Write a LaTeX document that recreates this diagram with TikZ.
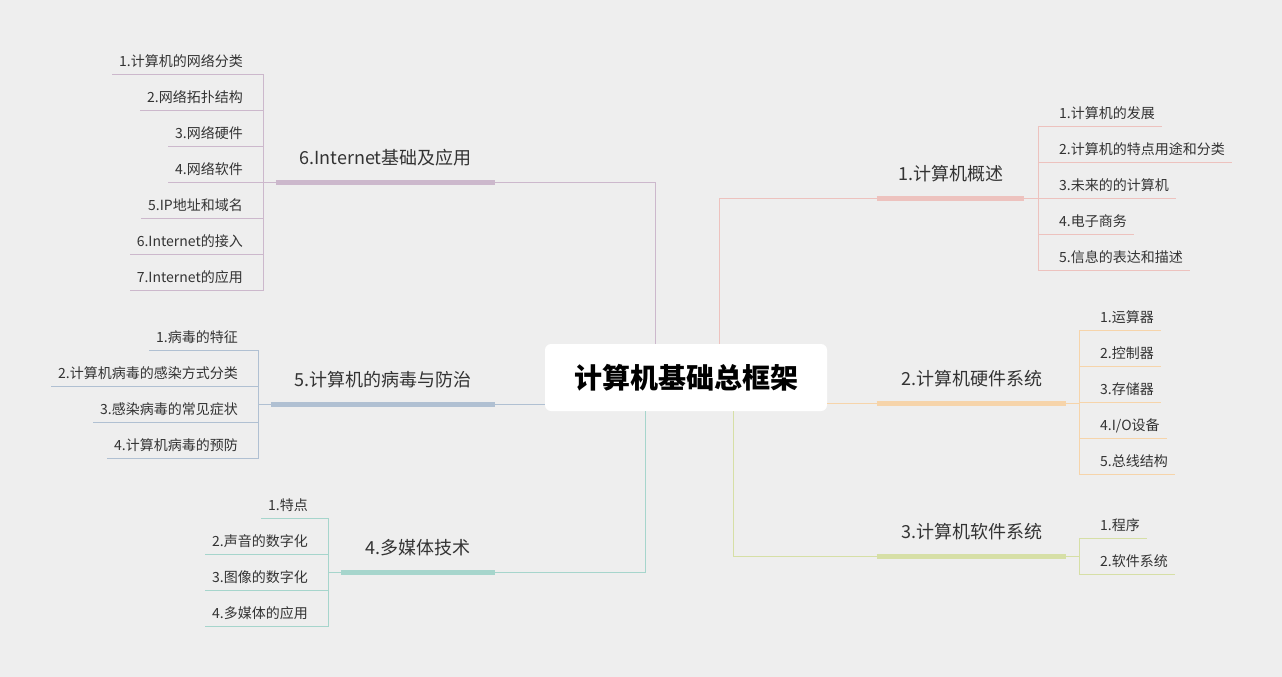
\documentclass[tikz,border=0pt]{standalone}
\usepackage{fontspec}
\setmainfont{Noto Sans CJK SC}
\usepackage{tikz}
\usetikzlibrary{calc}
\definecolor{bgback}{HTML}{EEEEEE}
\definecolor{textdark}{HTML}{333333}
\definecolor{mmpink}{HTML}{EDC2BE}
\definecolor{mmorange}{HTML}{F6D4AA}
\definecolor{mmgreen}{HTML}{D6DFA6}
\definecolor{mmteal}{HTML}{A6D5CC}
\definecolor{mmblue}{HTML}{B0C0D2}
\definecolor{mmpurple}{HTML}{CCB8CC}

\begin{document}
\begin{tikzpicture}[
  x=1pt, y=-1pt,
  root/.style={fill=white, rounded corners=6pt, minimum width=282pt,
               minimum height=67pt, inner sep=0pt, text=black,
               font=\fontsize{28pt}{32pt}\selectfont\bfseries},
  branch/.style={anchor=south, inner xsep=0pt, inner ysep=14pt,
                 text height=14pt, text depth=3pt, text=textdark,
                 font=\fontsize{18pt}{21pt}\selectfont},
  leafr/.style={anchor=south west, inner xsep=7pt, inner ysep=5.5pt,
                text height=11pt, text depth=2pt, text=textdark,
                font=\fontsize{14pt}{16pt}\selectfont},
  leafl/.style={leafr, anchor=south east},
  bar/.style={line width=5pt, line cap=butt},
  link/.style={line width=0.8pt}
]
\fill[bgback] (0,0) rectangle (1282,677);
\useasboundingbox (0,0) rectangle (1282,677);

% centre
\node[root] (root) at (686,377.5) {计算机基础总框架};

% main topics
\node[branch, minimum width=147pt] (b1) at (950.5,198) {1.计算机概述};
\node[branch, minimum width=189pt] (b2) at (971.5,403) {2.计算机硬件系统};
\node[branch, minimum width=189pt] (b3) at (971.5,556) {3.计算机软件系统};
\node[branch, minimum width=154pt] (b4) at (418,572) {4.多媒体技术};
\node[branch, minimum width=224pt] (b5) at (383,404) {5.计算机的病毒与防治};
\node[branch, minimum width=219pt] (b6) at (385.5,182) {6.Internet基础及应用};

\coordinate (j1) at (1038,198);
\coordinate (j2) at (1079,403);
\coordinate (j3) at (1079,556);
\coordinate (j4) at (328,572);
\coordinate (j5) at (258,404);
\coordinate (j6) at (263,182);

% sub topics
\node[leafr] (l11) at (1052,126) {1.计算机的发展};
\node[leafr] (l12) at (1052,162) {2.计算机的特点用途和分类};
\node[leafr] (l13) at (1052,198) {3.未来的的计算机};
\node[leafr] (l14) at (1052,234) {4.电子商务};
\node[leafr] (l15) at (1052,270) {5.信息的表达和描述};

\node[leafr] (l21) at (1093,330) {1.运算器};
\node[leafr] (l22) at (1093,366) {2.控制器};
\node[leafr] (l23) at (1093,402) {3.存储器};
\node[leafr] (l24) at (1093,438) {4.I/O设备};
\node[leafr] (l25) at (1093,474) {5.总线结构};

\node[leafr] (l31) at (1093,538) {1.程序};
\node[leafr] (l32) at (1093,574) {2.软件系统};

\node[leafl] (l41) at (315,518) {1.特点};
\node[leafl] (l42) at (315,554) {2.声音的数字化};
\node[leafl] (l43) at (315,590) {3.图像的数字化};
\node[leafl] (l44) at (315,626) {4.多媒体的应用};

\node[leafl] (l51) at (245,350) {1.病毒的特征};
\node[leafl] (l52) at (245,386) {2.计算机病毒的感染方式分类};
\node[leafl] (l53) at (245,422) {3.感染病毒的常见症状};
\node[leafl] (l54) at (245,458) {4.计算机病毒的预防};

\node[leafl] (l61) at (250,74) {1.计算机的网络分类};
\node[leafl] (l62) at (250,110) {2.网络拓扑结构};
\node[leafl] (l63) at (250,146) {3.网络硬件};
\node[leafl] (l64) at (250,182) {4.网络软件};
\node[leafl] (l65) at (250,218) {5.IP地址和域名};
\node[leafl] (l66) at (250,254) {6.Internet的接入};
\node[leafl] (l67) at (250,290) {7.Internet的应用};

% root to topics
\draw[link, mmpink] ([xshift=33pt]root.north) |- (b1.south west);
\draw[link, mmorange] (root.east |- b2.south) -- (b2.south west);
\draw[link, mmgreen] ([xshift=47pt]root.south) |- (b3.south west);
\draw[link, mmteal] ([xshift=-41pt]root.south) |- (b4.south east);
\draw[link, mmblue] (root.west |- b5.south) -- (b5.south east);
\draw[link, mmpurple] ([xshift=-31pt]root.north) |- (b6.south east);

% bars
\draw[bar, mmpink] (b1.south west) -- (b1.south east);
\draw[bar, mmorange] (b2.south west) -- (b2.south east);
\draw[bar, mmgreen] (b3.south west) -- (b3.south east);
\draw[bar, mmteal] (b4.south west) -- (b4.south east);
\draw[bar, mmblue] (b5.south west) -- (b5.south east);
\draw[bar, mmpurple] (b6.south west) -- (b6.south east);

% topics to sub topics
\draw[link, mmpink] (b1.south east) -- (j1);
\draw[link, mmpink] (j1) |- (l11.south east);
\draw[link, mmpink] (j1) |- (l12.south east);
\draw[link, mmpink] (j1) |- (l13.south east);
\draw[link, mmpink] (j1) |- (l14.south east);
\draw[link, mmpink] (j1) |- (l15.south east);

\draw[link, mmorange] (b2.south east) -- (j2);
\draw[link, mmorange] (j2) |- (l21.south east);
\draw[link, mmorange] (j2) |- (l22.south east);
\draw[link, mmorange] (j2) |- (l23.south east);
\draw[link, mmorange] (j2) |- (l24.south east);
\draw[link, mmorange] (j2) |- (l25.south east);

\draw[link, mmgreen] (b3.south east) -- (j3);
\draw[link, mmgreen] (j3) |- (l31.south east);
\draw[link, mmgreen] (j3) |- (l32.south east);

\draw[link, mmteal] (b4.south west) -- (j4);
\draw[link, mmteal] (j4) |- (l41.south west);
\draw[link, mmteal] (j4) |- (l42.south west);
\draw[link, mmteal] (j4) |- (l43.south west);
\draw[link, mmteal] (j4) |- (l44.south west);

\draw[link, mmblue] (b5.south west) -- (j5);
\draw[link, mmblue] (j5) |- (l51.south west);
\draw[link, mmblue] (j5) |- (l52.south west);
\draw[link, mmblue] (j5) |- (l53.south west);
\draw[link, mmblue] (j5) |- (l54.south west);

\draw[link, mmpurple] (b6.south west) -- (j6);
\draw[link, mmpurple] (j6) |- (l61.south west);
\draw[link, mmpurple] (j6) |- (l62.south west);
\draw[link, mmpurple] (j6) |- (l63.south west);
\draw[link, mmpurple] (j6) |- (l64.south west);
\draw[link, mmpurple] (j6) |- (l65.south west);
\draw[link, mmpurple] (j6) |- (l66.south west);
\draw[link, mmpurple] (j6) |- (l67.south west);
\end{tikzpicture}
\end{document}
